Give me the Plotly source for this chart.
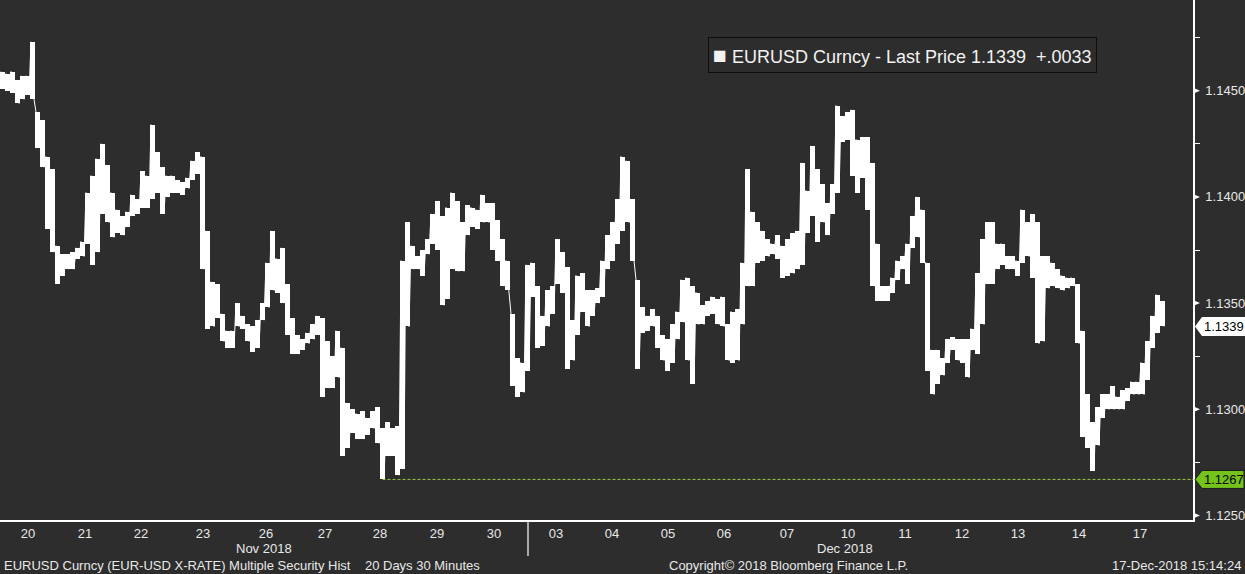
import plotly.graph_objects as go

# ---- data (EURUSD 30-min history, read as high/low per time bucket) ----
highs = [
    1.1459, 1.1458, 1.1459, 1.1455, 1.1457, 1.1457, 1.1473, 1.1440, 1.1436, 1.1419,
    1.1413, 1.1377, 1.1373, 1.1373, 1.1374, 1.1376, 1.1379, 1.1402, 1.1410, 1.1418,
    1.1425, 1.1415, 1.1402, 1.1394, 1.1391, 1.1393, 1.1401, 1.1399, 1.1412, 1.1410,
    1.1434, 1.1421, 1.1414, 1.1410, 1.1410, 1.1408, 1.1407, 1.1409, 1.1417, 1.1421,
    1.1419, 1.1384, 1.1360, 1.1359, 1.1345, 1.1337, 1.1337, 1.1350, 1.1344, 1.1340,
    1.1339, 1.1342, 1.1350, 1.1369, 1.1384, 1.1371, 1.1376, 1.1359, 1.1343, 1.1335,
    1.1333, 1.1336, 1.1340, 1.1344, 1.1343, 1.1332, 1.1325, 1.1337, 1.1329, 1.1303,
    1.1300, 1.1298, 1.1299, 1.1296, 1.1299, 1.1301, 1.1291, 1.1294, 1.1291, 1.1292,
    1.1370, 1.1388, 1.1377, 1.1372, 1.1375, 1.1380, 1.1392, 1.1398, 1.1391, 1.1395,
    1.1402, 1.1398, 1.1388, 1.1396, 1.1395, 1.1394, 1.1401, 1.1397, 1.1397, 1.1389,
    1.1380, 1.1370, 1.1345, 1.1324, 1.1322, 1.1368, 1.1369, 1.1358, 1.1344, 1.1356,
    1.1358, 1.1380, 1.1374, 1.1367, 1.1342, 1.1363, 1.1364, 1.1356, 1.1356, 1.1357,
    1.1370, 1.1382, 1.1388, 1.1399, 1.1419, 1.1417, 1.1399, 1.1361, 1.1348, 1.1344,
    1.1347, 1.1344, 1.1335, 1.1333, 1.1340, 1.1346, 1.1361, 1.1362, 1.1358, 1.1355,
    1.1349, 1.1351, 1.1353, 1.1352, 1.1353, 1.1340, 1.1346, 1.1347, 1.1369, 1.1413,
    1.1393, 1.1388, 1.1384, 1.1380, 1.1378, 1.1382, 1.1377, 1.1380, 1.1383, 1.1384,
    1.1416, 1.1403, 1.1424, 1.1413, 1.1406, 1.1397, 1.1406, 1.1443, 1.1438, 1.1440,
    1.1441, 1.1427, 1.1428, 1.1428, 1.1416, 1.1378, 1.1358, 1.1358, 1.1362, 1.1370,
    1.1372, 1.1378, 1.1391, 1.1400, 1.1394, 1.1369, 1.1328, 1.1328, 1.1324, 1.1333,
    1.1334, 1.1333, 1.1333, 1.1333, 1.1338, 1.1364, 1.1380, 1.1388, 1.1388, 1.1378,
    1.1378, 1.1372, 1.1372, 1.1370, 1.1394, 1.1388, 1.1392, 1.1388, 1.1372, 1.1372,
    1.1369, 1.1366, 1.1363, 1.1362, 1.1362, 1.1359, 1.1337, 1.1307, 1.1294, 1.1301,
    1.1307, 1.1307, 1.1311, 1.1306, 1.1309, 1.1310, 1.1313, 1.1313, 1.1322, 1.1332,
    1.1344, 1.1354, 1.1351,
]
lows = [
    1.1451, 1.1450, 1.1449, 1.1444, 1.1446, 1.1448, 1.1446, 1.1423, 1.1414, 1.1385,
    1.1374, 1.1359, 1.1363, 1.1366, 1.1366, 1.1371, 1.1372, 1.1378, 1.1368, 1.1374,
    1.1392, 1.1388, 1.1381, 1.1383, 1.1382, 1.1386, 1.1391, 1.1392, 1.1395, 1.1395,
    1.1399, 1.1402, 1.1392, 1.1400, 1.1402, 1.1402, 1.1401, 1.1404, 1.1408, 1.1411,
    1.1366, 1.1338, 1.1339, 1.1343, 1.1332, 1.1329, 1.1329, 1.1339, 1.1338, 1.1332,
    1.1327, 1.1329, 1.1342, 1.1348, 1.1356, 1.1355, 1.1350, 1.1335, 1.1326, 1.1326,
    1.1328, 1.1331, 1.1333, 1.1335, 1.1306, 1.1310, 1.1310, 1.1315, 1.1278, 1.1282,
    1.1289, 1.1286, 1.1286, 1.1288, 1.1291, 1.1284, 1.1267, 1.1278, 1.1278, 1.1269,
    1.1272, 1.1339, 1.1366, 1.1366, 1.1363, 1.1373, 1.1378, 1.1375, 1.1349, 1.1352,
    1.1366, 1.1365, 1.1365, 1.1382, 1.1386, 1.1385, 1.1388, 1.1388, 1.1375, 1.1370,
    1.1358, 1.1356, 1.1311, 1.1306, 1.1308, 1.1318, 1.1353, 1.1329, 1.1330, 1.1339,
    1.1345, 1.1359, 1.1355, 1.1319, 1.1323, 1.1335, 1.1346, 1.1339, 1.1344, 1.1350,
    1.1353, 1.1366, 1.1370, 1.1378, 1.1384, 1.1388, 1.1370, 1.1319, 1.1336, 1.1337,
    1.1339, 1.1329, 1.1323, 1.1318, 1.1322, 1.1333, 1.1341, 1.1323, 1.1312, 1.1340,
    1.1340, 1.1344, 1.1345, 1.1340, 1.1339, 1.1323, 1.1322, 1.1323, 1.1340, 1.1358,
    1.1358, 1.1369, 1.1370, 1.1372, 1.1373, 1.1371, 1.1362, 1.1363, 1.1364, 1.1366,
    1.1368, 1.1383, 1.1391, 1.1379, 1.1388, 1.1382, 1.1392, 1.1402, 1.1426, 1.1427,
    1.1410, 1.1402, 1.1409, 1.1394, 1.1358, 1.1351, 1.1351, 1.1351, 1.1355, 1.1361,
    1.1366, 1.1359, 1.1376, 1.1381, 1.1369, 1.1318, 1.1307, 1.1312, 1.1316, 1.1322,
    1.1328, 1.1323, 1.1322, 1.1315, 1.1328, 1.1326, 1.1340, 1.1359, 1.1359, 1.1366,
    1.1368, 1.1366, 1.1366, 1.1363, 1.1369, 1.1372, 1.1362, 1.1331, 1.1332, 1.1357,
    1.1358, 1.1357, 1.1356, 1.1357, 1.1358, 1.1331, 1.1287, 1.1282, 1.1271, 1.1283,
    1.1296, 1.1300, 1.1300, 1.1300, 1.1300, 1.1304, 1.1307, 1.1307, 1.1307, 1.1314,
    1.1329, 1.1336, 1.1339,
]
day_labels = ["20", "21", "22", "23", "26", "27", "28", "29", "30",
              "03", "04", "05", "06", "07", "10", "11", "12", "13", "14", "17"]
day_tick_pos = [5.1, 16.5, 27.7, 40.1, 52.7, 64.5, 75.5, 86.9, 98.3,
                110.7, 121.9, 133.1, 144.3, 156.9, 169.1, 180.5, 191.9, 203.1, 215.3, 227.5]
month_labels = ["Nov 2018", "Dec 2018"]
month_break = 105.1          # bucket where December starts
last_price = 1.1339
price_change = 0.0033
y_major = [1.1250, 1.1300, 1.1350, 1.1400, 1.1450]

# ---- styling ----
BG = "#2d2d2d"
TXT = "#e8e8e8"
FONT = "Liberation Sans, Arial, sans-serif"
x_range = [-0.5, 238.1]
y_range = [1.12479, 1.14927]

xs, ys = [], []
for i, (h, l) in enumerate(zip(highs, lows)):
    xs += [i - 0.3, i + 0.3]
    ys += [h, l]

fig = go.Figure()
# price range of each bucket as a solid bar
fig.add_trace(go.Bar(x=list(range(len(highs))),
                     y=[h - l for h, l in zip(highs, lows)], base=lows,
                     width=0.86, marker=dict(color="#ffffff", line=dict(width=0)),
                     hoverinfo="skip", showlegend=False))
# high/low path connecting consecutive buckets
fig.add_trace(go.Scatter(x=xs, y=ys, mode="lines",
                         line=dict(color="#ffffff", width=1),
                         hoverinfo="skip", showlegend=False))

min_low = min(lows)
min_idx = lows.index(min_low)

shapes = []
shapes.append(dict(type="line", xref="x", yref="y", x0=min_idx, x1=x_range[1],
                   y0=min_low, y1=min_low,
                   line=dict(color="#9bc53d", width=1, dash="3px,2px")))
shapes.append(dict(type="line", xref="x", yref="paper", x0=month_break, x1=month_break,
                   y0=0, y1=-0.069, line=dict(color="#ffffff", width=1.2)))
for v in y_major:
    shapes.append(dict(type="path", xref="paper", xsizemode="pixel", xanchor=1,
                       yref="y", ysizemode="pixel", yanchor=v,
                       path="M 0 -3 L 7 0 L 0 3 Z", fillcolor="#ffffff",
                       line=dict(width=0)))
shapes.append(dict(type="path", xref="paper", xsizemode="pixel", xanchor=1,
                   yref="y", ysizemode="pixel", yanchor=last_price,
                   path="M 2 0 L 9 -9.5 L 52 -9.5 L 52 9.5 L 9 9.5 Z",
                   fillcolor="#ffffff", line=dict(width=0)))
shapes.append(dict(type="path", xref="paper", xsizemode="pixel", xanchor=1,
                   yref="y", ysizemode="pixel", yanchor=min_low,
                   path="M 2 0 L 9 -9 L 51 -9 L 51 9 L 9 9 Z",
                   fillcolor="#74c21c", line=dict(width=1, color="#1a1a1a")))

annotations = []
annotations.append(dict(xref="paper", yref="y", x=1, y=last_price, xanchor="left",
                        xshift=9, text=f"{last_price:.4f}", showarrow=False,
                        font=dict(family=FONT, size=13, color="#000000")))
annotations.append(dict(xref="paper", yref="y", x=1, y=min_low, xanchor="left",
                        xshift=9, text=f"{min_low:.4f}", showarrow=False,
                        font=dict(family=FONT, size=13, color="#000000")))
chg = f"+{price_change:.4f}".replace("+0.", "+.")
annotations.append(dict(xref="paper", yref="paper", x=1097 / 1193, y=(520 - 37) / 520,
                        xanchor="right", yanchor="top", showarrow=False,
                        text=("<span style='font-size:23px'>■</span> EURUSD Curncy - Last Price "
                              f"{last_price:.4f}\u00a0\u00a0{chg}"),
                        font=dict(family=FONT, size=18, color="#f2f2f2"),
                        bgcolor=BG, bordercolor="#0d0d0d", borderwidth=1, borderpad=4))
n = len(highs)
month_pos = [(x_range[0] + month_break) / 2, (month_break + n - 1) / 2]
for lab, pos in zip(month_labels, month_pos):
    annotations.append(dict(xref="x", yref="paper", x=pos, y=(520 - 548) / 520,
                            yanchor="middle", showarrow=False, text=lab,
                            font=dict(family=FONT, size=13, color=TXT)))
fy = (520 - 565) / 520
annotations.append(dict(xref="paper", yref="paper", x=2 / 1193, y=fy, xanchor="left",
                        yanchor="middle", showarrow=False,
                        text="EURUSD Curncy (EUR-USD X-RATE) Multiple Security Hist\u00a0\u00a0\u00a0 20 Days 30 Minutes",
                        font=dict(family=FONT, size=13, color=TXT)))
annotations.append(dict(xref="paper", yref="paper", x=667 / 1193, y=fy, xanchor="left",
                        yanchor="middle", showarrow=False,
                        text="Copyright© 2018 Bloomberg Finance L.P.",
                        font=dict(family=FONT, size=13, color=TXT)))
annotations.append(dict(xref="paper", yref="paper", x=1243 / 1193, y=fy, xanchor="right",
                        yanchor="middle", showarrow=False,
                        text="17-Dec-2018 15:14:24",
                        font=dict(family=FONT, size=13, color=TXT)))

fig.update_layout(
    width=1245, height=574,
    margin=dict(l=0, r=52, t=0, b=54),
    paper_bgcolor=BG, plot_bgcolor=BG,
    showlegend=False, bargap=0,
    shapes=shapes, annotations=annotations,
    xaxis=dict(range=x_range, tickmode="array", tickvals=day_tick_pos, ticktext=day_labels,
               showgrid=False, zeroline=False, showline=True, linecolor="#ffffff",
               linewidth=2, ticks="", tickfont=dict(family=FONT, size=13, color=TXT),
               fixedrange=True),
    yaxis=dict(range=y_range, side="right", tickmode="array", tickvals=y_major,
               ticktext=[f"{v:.4f}" for v in y_major],
               showgrid=False, zeroline=False, showline=True, linecolor="#ffffff",
               linewidth=1.5, ticks="outside", ticklen=8, tickcolor=BG,
               tickfont=dict(family=FONT, size=13, color=TXT),
               minor=dict(tickmode="linear", tick0=1.1275, dtick=0.005,
                          ticks="outside", ticklen=5, tickcolor="#ffffff", tickwidth=1),
               fixedrange=True),
)

fig.write_html("out.html", config={"displayModeBar": False},
               post_script="document.body.style.margin='0';document.body.style.background='#2d2d2d';")
